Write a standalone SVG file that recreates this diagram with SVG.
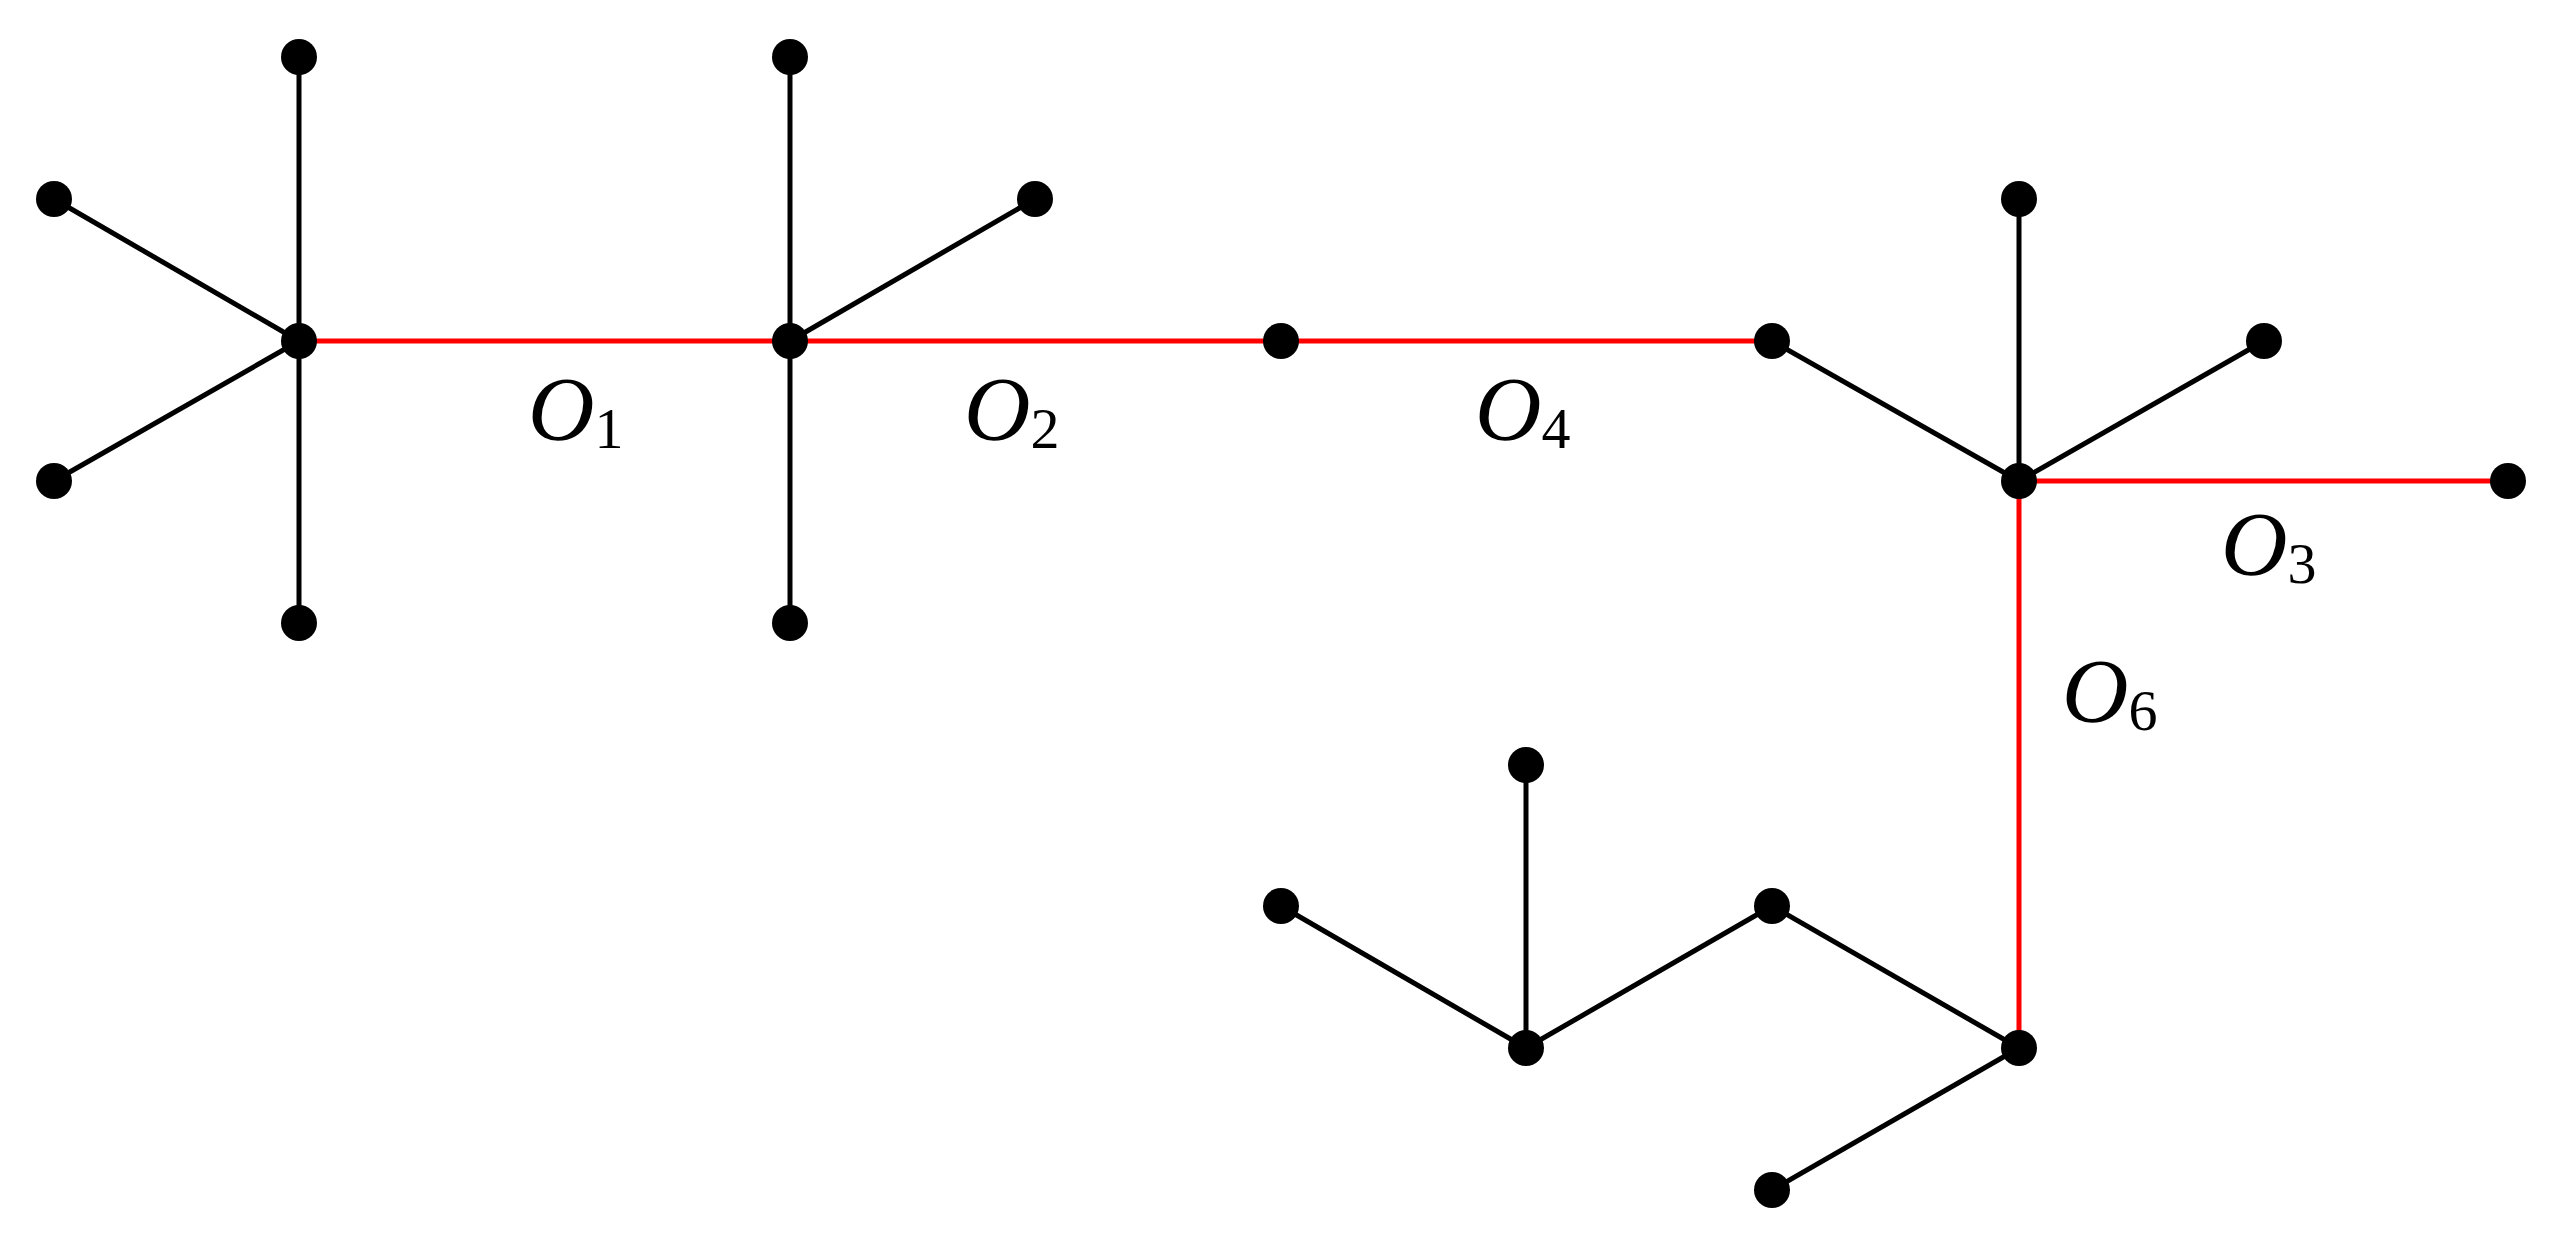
<svg xmlns="http://www.w3.org/2000/svg" width="2559" height="1235" viewBox="0 0 2559 1235">
<style>
.k{stroke:#000;stroke-width:5}
.r{stroke:#f00;stroke-width:5}
circle{fill:#000}
text{font-family:"Liberation Serif",serif;font-style:italic;font-size:92px}
tspan{font-style:normal;font-size:58px}
</style>
<rect width="2559" height="1235" fill="#fff"/>
<g id="edges">
<line class="k" x1="299" y1="341" x2="299" y2="57"/>
<line class="k" x1="299" y1="341" x2="54" y2="199"/>
<line class="k" x1="299" y1="341" x2="54" y2="481"/>
<line class="k" x1="299" y1="341" x2="299" y2="623"/>
<line class="k" x1="790" y1="341" x2="790" y2="57"/>
<line class="k" x1="790" y1="341" x2="1035" y2="199"/>
<line class="k" x1="790" y1="341" x2="790" y2="623"/>
<line class="k" x1="1772" y1="341" x2="2019" y2="481"/>
<line class="k" x1="2019" y1="481" x2="2019" y2="199"/>
<line class="k" x1="2019" y1="481" x2="2264" y2="341"/>
<line class="k" x1="2019" y1="1048" x2="1772" y2="906"/>
<line class="k" x1="2019" y1="1048" x2="1772" y2="1190"/>
<line class="k" x1="1772" y1="906" x2="1526" y2="1048"/>
<line class="k" x1="1526" y1="1048" x2="1526" y2="765"/>
<line class="k" x1="1526" y1="1048" x2="1281" y2="906"/>
<line class="r" x1="299" y1="341" x2="1772" y2="341"/>
<line class="r" x1="2019" y1="481" x2="2508" y2="481"/>
<line class="r" x1="2019" y1="481" x2="2019" y2="1048"/>
</g>
<g id="nodes">
<circle cx="299" cy="341" r="18"/><circle cx="299" cy="57" r="18"/><circle cx="54" cy="199" r="18"/><circle cx="54" cy="481" r="18"/><circle cx="299" cy="623" r="18"/>
<circle cx="790" cy="341" r="18"/><circle cx="790" cy="57" r="18"/><circle cx="1035" cy="199" r="18"/><circle cx="790" cy="623" r="18"/>
<circle cx="1281" cy="341" r="18"/><circle cx="1772" cy="341" r="18"/>
<circle cx="2019" cy="481" r="18"/><circle cx="2019" cy="199" r="18"/><circle cx="2264" cy="341" r="18"/><circle cx="2508" cy="481" r="18"/>
<circle cx="2019" cy="1048" r="18"/><circle cx="1772" cy="906" r="18"/><circle cx="1772" cy="1190" r="18"/>
<circle cx="1526" cy="1048" r="18"/><circle cx="1526" cy="765" r="18"/><circle cx="1281" cy="906" r="18"/>
</g>
<g id="labels">
<text x="528" y="440">O<tspan dy="8">1</tspan></text>
<text x="964" y="440">O<tspan dy="8">2</tspan></text>
<text x="1475" y="440">O<tspan dy="8">4</tspan></text>
<text x="2221" y="575">O<tspan dy="8">3</tspan></text>
<text x="2062" y="722">O<tspan dy="8">6</tspan></text>
</g>
</svg>
